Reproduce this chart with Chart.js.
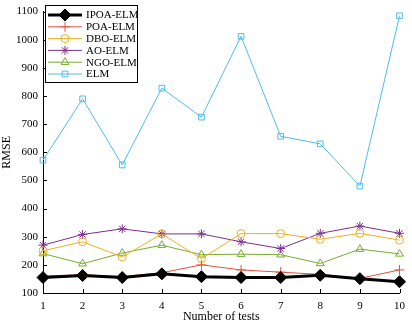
<!DOCTYPE html>
<html>
<head>
<meta charset="utf-8">
<script src="https://cdn.jsdelivr.net/npm/chart.js@4/dist/chart.umd.min.js"></script>
<style>
html,body{margin:0;padding:0;background:#fff;}
#wrap{width:412px;height:324px;}
</style>
</head>
<body>
<div id="wrap"><canvas id="c" width="412" height="324"></canvas></div>
<script>
// ---- data ----
const tests = ['1','2','3','4','5','6','7','8','9','10'];
const ipoaElm = [155, 162, 155, 168, 158, 155, 155, 163, 151, 140];
const poaElm  = [160, 165, 158, 172, 200, 182, 174, 166, 152, 182];
const dboElm  = [250, 282, 228, 310, 222, 311, 311, 291, 312, 288];
const aoElm   = [270, 308, 328, 310, 310, 282, 258, 312, 338, 312];
const ngoElm  = [240, 204, 242, 270, 236, 238, 236, 205, 256, 239];
const elm     = [572, 790, 555, 828, 725, 1012, 657, 630, 480, 1085];
const yMin = 100, yMax = 1100, yStep = 100;

const FONT = '"Liberation Serif", "Times New Roman", serif';

function ds(label, data, color, style, radius, width, fill) {
  return {
    label, data,
    borderColor: color, backgroundColor: color,
    borderWidth: width,
    pointStyle: style, pointRadius: radius, pointHoverRadius: radius,
    pointBorderColor: color, pointBackgroundColor: fill,
    pointBorderWidth: 1, tension: 0, clip: false
  };
}

const datasets = [
  ds('IPOA-ELM', ipoaElm, '#000000', 'rectRot', 6, 3, '#000000'),
  ds('POA-ELM',  poaElm,  '#E0533F', 'cross', 5, 1, 'rgba(0,0,0,0)'),
  ds('DBO-ELM',  dboElm,  '#EDB120', 'circle', 4, 1, 'rgba(0,0,0,0)'),
  ds('AO-ELM',   aoElm,   '#7E2F8E', 'star', 4.5, 1, 'rgba(0,0,0,0)'),
  ds('NGO-ELM',  ngoElm,  '#77AC30', 'triangle', 4.5, 1, 'rgba(0,0,0,0)'),
  ds('ELM',      elm,     '#4DBEEE', 'rect', 4, 1, 'rgba(0,0,0,0)')
];

function drawMarker(ctx, d, x, y) {
  ctx.save();
  ctx.strokeStyle = d.pointBorderColor;
  ctx.fillStyle = d.pointBackgroundColor;
  ctx.lineWidth = d.pointBorderWidth;
  Chart.helpers.drawPoint(ctx, {pointStyle: d.pointStyle, radius: d.pointRadius, borderWidth: d.pointBorderWidth, rotation: 0}, x, y);
  ctx.restore();
}

const inwardTicks = {
  id: 'inwardTicks',
  afterDraw(chart) {
    const ctx = chart.ctx;
    const xs = chart.scales.x, ys = chart.scales.y;
    const a = chart.chartArea;
    ctx.save();
    ctx.strokeStyle = '#000';
    ctx.lineWidth = 1;
    ctx.beginPath();
    for (let i = 0; i < xs.ticks.length; i++) {
      const x = Math.round(xs.getPixelForTick(i)) + 0.5;
      ctx.moveTo(x, a.bottom);
      ctx.lineTo(x, a.bottom - 4);
    }
    ys.ticks.forEach(t => {
      const y = Math.round(ys.getPixelForValue(t.value)) + 0.5;
      ctx.moveTo(a.left, y);
      ctx.lineTo(a.left + 4, y);
    });
    ctx.stroke();
    ctx.restore();

    // legend box
    const bx = 45.5, by = 5.5, bw = 92, bh = 77;
    ctx.save();
    ctx.fillStyle = '#fff';
    ctx.fillRect(bx, by, bw, bh);
    ctx.strokeStyle = '#000';
    ctx.lineWidth = 1;
    ctx.strokeRect(bx, by, bw, bh);
    ctx.font = '11px ' + FONT;
    ctx.textBaseline = 'middle';
    ctx.textAlign = 'left';
    chart.data.datasets.forEach((d, i) => {
      const y = 15 + i * 11.8;
      ctx.strokeStyle = d.borderColor;
      ctx.lineWidth = d.borderWidth;
      ctx.beginPath();
      ctx.moveTo(48, y);
      ctx.lineTo(82, y);
      ctx.stroke();
      drawMarker(ctx, d, 65, y);
      ctx.fillStyle = '#000';
      ctx.fillText(d.label, 86, y + 0.5);
    });
    ctx.restore();
  }
};

new Chart(document.getElementById('c'), {
  type: 'line',
  data: { labels: tests, datasets },
  options: {
    responsive: false,
    animation: false,
    devicePixelRatio: 1,
    layout: { padding: { top: 6, right: 6, left: 0, bottom: 0 } },
    plugins: { legend: { display: false }, tooltip: { enabled: false } },
    scales: {
      x: {
        type: 'category',
        offset: false,
        grid: { drawOnChartArea: false, drawTicks: false },
        border: { display: true, color: '#000', width: 1 },
        ticks: { color: '#000', font: { family: FONT, size: 11 }, padding: 7, maxRotation: 0, autoSkip: false },
        title: { display: true, text: 'Number of tests', color: '#000', font: { family: FONT, size: 12 }, padding: { top: 0, bottom: 0 } },
        afterFit(s) { s.height = 31; }
      },
      y: {
        min: yMin, max: yMax,
        grid: { drawOnChartArea: false, drawTicks: false },
        border: { display: true, color: '#000', width: 1 },
        ticks: { stepSize: yStep, color: '#000', font: { family: FONT, size: 11 }, padding: 5, callback: v => String(v) },
        title: { display: true, text: 'RMSE', color: '#000', font: { family: FONT, size: 12 }, padding: { top: 0, bottom: 0 } },
        afterFit(s) { s.width = 43; }
      }
    }
  },
  plugins: [inwardTicks]
});
</script>
</body>
</html>
